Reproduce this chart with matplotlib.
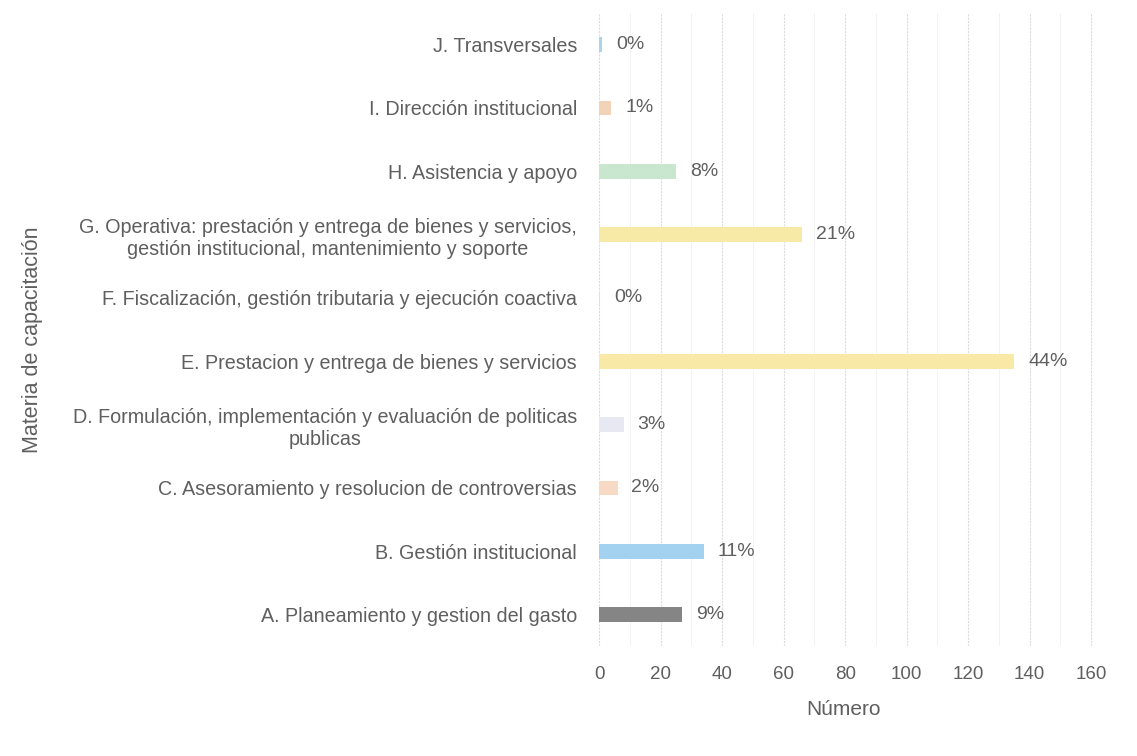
import matplotlib.pyplot as plt
from matplotlib.ticker import MultipleLocator

# datos (de abajo hacia arriba)
categorias = [
    "A. Planeamiento y gestion del gasto",
    "B. Gestión institucional",
    "C. Asesoramiento y resolucion de controversias",
    "D. Formulación, implementación y evaluación de politicas\npublicas",
    "E. Prestacion y entrega de bienes y servicios",
    "F. Fiscalización, gestión tributaria y ejecución coactiva",
    "G. Operativa: prestación y entrega de bienes y servicios,\ngestión institucional, mantenimiento y soporte",
    "H. Asistencia y apoyo",
    "I. Dirección institucional",
    "J. Transversales",
]
numero = [27, 34, 6, 8, 135, 0.3, 66, 25, 4, 1]
porcentajes = ["9%", "11%", "2%", "3%", "44%", "0%", "21%", "8%", "1%", "0%"]
colores = ["#858585", "#a3d2f0", "#f7d9c4", "#e8e8f2", "#f8eaa6",
           "#e0e0e0", "#f7eaa6", "#c9e6cf", "#f3d3b8", "#a8d4f0"]

plt.rcParams['font.family'] = ['Liberation Sans', 'DejaVu Sans']
gris = "#5f5f5f"

fig = plt.figure(figsize=(11.37, 7.56), dpi=100)
ax = fig.add_axes([0.527, 0.145, 0.438, 0.838])

y = list(range(len(categorias)))
ax.barh(y, numero, height=0.23, color=colores, zorder=3)
for yi, v, p in zip(y, numero, porcentajes):
    ax.text(v + 4.5, yi, p, va='center', ha='left', fontsize=14, color=gris)

ax.set_yticks(y)
ax.set_yticklabels(categorias, fontsize=14.2, color=gris, multialignment='center')
ax.set_ylim(-0.5, 9.5)
ax.set_xlim(0, 162)
ax.xaxis.set_major_locator(MultipleLocator(20))
ax.xaxis.set_minor_locator(MultipleLocator(10))
ax.tick_params(axis='x', labelsize=13.5, labelcolor=gris, length=0, pad=14)
ax.tick_params(axis='y', length=0, pad=16)
ax.tick_params(which='minor', length=0)
ax.grid(axis='x', which='major', color='#dcdcdc', linewidth=0.8, linestyle=(0, (2, 1)), zorder=0)
ax.grid(axis='x', which='minor', color='#f0f0f0', linewidth=0.6, zorder=0)
for s in ax.spines.values():
    s.set_visible(False)

ax.set_xlabel("Número", fontsize=15, color=gris, labelpad=8)
ax.xaxis.set_label_coords(0.49, -0.085)
fig.text(0.029, 0.55, "Materia de capacitación", rotation=90, fontsize=15.5,
         color=gris, va='center', ha='center')

fig.savefig("out.png", dpi=100, facecolor='white')
